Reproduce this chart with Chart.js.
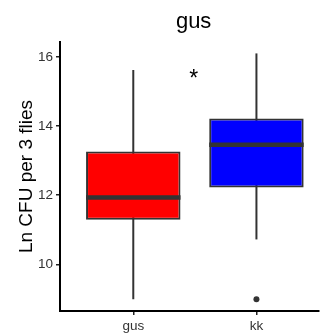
<!DOCTYPE html>
<html>
<head>
<meta charset="utf-8">
<script src="https://cdn.jsdelivr.net/npm/chart.js@4.4.1/dist/chart.umd.min.js"></script>
<style>
  html, body { margin: 0; padding: 0; background: #fff; }
  #wrap { width: 323px; height: 335px; }
</style>
</head>
<body>
<div id="wrap"><canvas id="box-chart"></canvas></div>
<script>
// box plot values
var groups = ['gus', 'kk'];
var colors = ['#FF0000', '#0000FF'];
var lower = [8.99, 10.72];
var q1 = [11.29, 12.22];
var median = [11.93, 13.46];
var q3 = [13.26, 14.22];
var upper = [15.62, 16.10];
var outliers = [[], [8.99]];
var yTicks = [10, 12, 14, 16];
var sigMark = '*';
var sigAt = { x: 1.49, y: 15.5 };
var titleText = 'gus';
var yTitle = 'Ln CFU per 3 flies';

Chart.defaults.font.family = '"Liberation Sans", Arial, Helvetica, sans-serif';

var boxes = groups.map(function (g, i) { return { x: i + 1, y: [q1[i], q3[i]] }; });
var whiskerSets = groups.map(function (g, i) {
    return {
        type: 'line',
        data: [{ x: i + 1, y: lower[i] }, { x: i + 1, y: upper[i] }],
        borderColor: '#333333',
        borderWidth: 2,
        pointRadius: 0,
        order: 3
    };
});
var outlierPts = [];
outliers.forEach(function (list, i) {
    list.forEach(function (v) { outlierPts.push({ x: i + 1, y: v }); });
});

// medians, title and significance mark
var extras = {
    id: 'extras',
    afterDatasetsDraw: function (chart) {
        var c = chart.ctx;
        var yS = chart.scales.y, xS = chart.scales.x;
        var meta = chart.getDatasetMeta(0);
        c.save();
        c.strokeStyle = '#333333';
        c.lineWidth = 4.5;
        meta.data.forEach(function (bar, i) {
            var y = yS.getPixelForValue(median[i]);
            c.beginPath();
            c.moveTo(bar.x - bar.width / 2, y);
            c.lineTo(bar.x + bar.width / 2, y);
            c.stroke();
        });
        c.fillStyle = '#000';
        c.textAlign = 'center';
        c.textBaseline = 'middle';
        c.font = '22px "Liberation Sans", Arial, sans-serif';
        c.fillText(titleText, xS.getPixelForValue(1.49), 22);
        c.font = '23px "Liberation Sans", Arial, sans-serif';
        c.fillText(sigMark, xS.getPixelForValue(sigAt.x), yS.getPixelForValue(sigAt.y) + 6);
        c.restore();
    }
};

var ctx = document.getElementById('box-chart').getContext('2d');

var chart = new Chart(ctx, {
    type: 'bar',
    data: {
        datasets: [{
            data: boxes,
            backgroundColor: colors,
            borderColor: '#333333',
            borderWidth: 2,
            borderSkipped: false,
            categoryPercentage: 1,
            barPercentage: 0.767,
            order: 2
        }].concat(whiskerSets).concat([{
            type: 'scatter',
            data: outlierPts,
            backgroundColor: '#333333',
            borderWidth: 0,
            pointRadius: 3,
            order: 1
        }])
    },
    options: {
        responsive: true,
        maintainAspectRatio: false,
        animation: false,
        layout: { padding: { top: 42, left: 0, right: 0, bottom: 0 } },
        plugins: { legend: { display: false }, tooltip: { enabled: false } },
        scales: {
            x: {
                type: 'linear',
                min: 0.405,
                max: 2.508,
                offset: false,
                border: { color: '#000', width: 2 },
                grid: { offset: false, drawOnChartArea: false, drawTicks: true, tickLength: 4, color: '#222222', lineWidth: 1.5 },
                ticks: {
                    color: '#333333',
                    font: { size: 13.5 },
                    padding: 3,
                    callback: function (v) { return groups[v - 1]; }
                },
                afterBuildTicks: function (axis) {
                    axis.ticks = groups.map(function (g, i) { return { value: i + 1 }; });
                },
                afterFit: function (axis) { axis.height = 24; }
            },
            y: {
                min: 8.65,
                max: 16.43,
                border: { color: '#000', width: 2 },
                grid: { drawOnChartArea: false, drawTicks: true, tickLength: 4, color: '#222222', lineWidth: 1.5 },
                ticks: { color: '#333333', font: { size: 13.5 }, padding: 3 },
                afterBuildTicks: function (axis) {
                    axis.ticks = yTicks.map(function (v) { return { value: v }; });
                },
                title: {
                    display: true,
                    text: yTitle,
                    color: '#000',
                    font: { size: 19 },
                    padding: { top: 15, bottom: 0 }
                },
                afterFit: function (axis) { axis.width = 60; }
            }
        }
    },
    plugins: [extras]
});
</script>
</body>
</html>
